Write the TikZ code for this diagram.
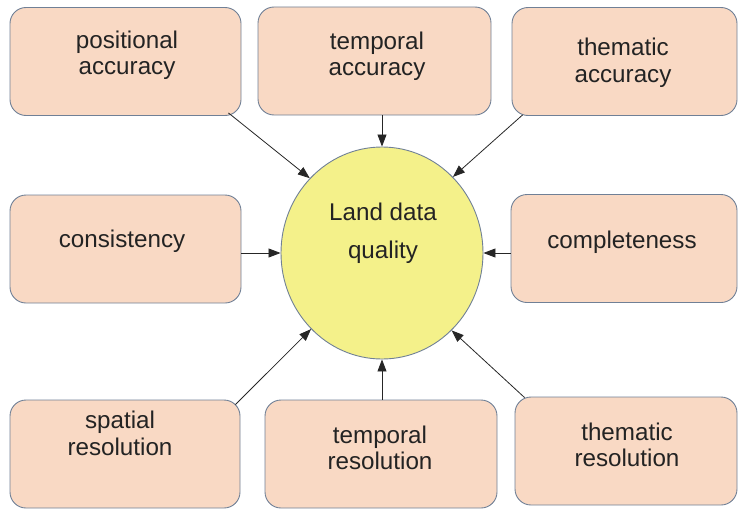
\documentclass[tikz,border=0pt]{standalone}
\usepackage{fontspec}
\setmainfont{Liberation Sans}
\usetikzlibrary{arrows.meta,shapes.geometric}
\definecolor{boxfill}{RGB}{249,217,196}
\definecolor{boxline}{RGB}{112,128,150}
\definecolor{ballfill}{RGB}{244,241,138}
\definecolor{txtgray}{RGB}{35,35,35}
\begin{document}
\begin{tikzpicture}[x=1pt, y=-1pt,
        box/.style={draw=boxline, line width=0.9pt, fill=boxfill, rounded corners=16pt,
            minimum width=#1, minimum height=108pt, inner sep=0pt},
        txt/.style={font=\fontsize{24.2}{26.5}\selectfont, text=txtgray, align=center},
        arr/.style={-{Triangle[length=12pt,width=9pt]}, line width=0.8pt, black!85}]
        \useasboundingbox (0,0) rectangle (738,511);

        \node[box=231pt] (pa) at (125.5,61.5) {};
        \node[box=233pt] (ta) at (374.5,61) {};
        \node[box=225pt] (tha) at (624.5,61.5) {};
        \node[box=231pt] (co) at (125.5,249) {};
        \node[box=226pt] (cm) at (624,248.5) {};
        \node[box=230pt] (sr) at (125,454) {};
        \node[box=232pt] (tr) at (381,454) {};
        \node[box=222pt] (thr) at (626,451) {};
        \node[ellipse, draw=boxline, line width=0.9pt, fill=ballfill,
            minimum width=202pt, minimum height=212pt, inner sep=0pt] (ql) at (382,253) {};

        \node[txt] (pa-t) at (127,55) {positional\\accuracy};
        \node[txt] (ta-t) at (377,56) {temporal\\accuracy};
        \node[txt] (tha-t) at (623,62.5) {thematic\\accuracy};
        \node[txt] (co-t) at (122,241) {consistency};
        \node[txt] (cm-t) at (622,242.5) {completeness};
        \node[txt] (sr-t) at (120,433.5) {spatial\\resolution};
        \node[txt] (tr-t) at (380,448) {temporal\\resolution};
        \node[txt] (thr-t) at (627,445) {thematic\\resolution};
        \node[txt] (ql-t) at (383,233.5) {Land data\\[11.5pt]quality};

        \draw[arr] ([shift={(-13,-3)}]pa.south east) -- (ql.134);
        \draw[arr] (ta.south -| ql.north) -- (ql.north);
        \draw[arr] ([shift={(11,-1)}]tha.south west) -- (ql.47);
        \draw[arr] (co.east |- ql.west) -- (ql.west);
        \draw[arr] (cm.west |- ql.east) -- (ql.east);
        \draw[arr] ([shift={(-5,5)}]sr.north east) -- (ql.-133);
        \draw[arr] (tr.north -| ql.south) -- (ql.south);
        \draw[arr] ([shift={(10,1)}]thr.north west) -- (ql.-48);
    \end{tikzpicture}
\end{document}
